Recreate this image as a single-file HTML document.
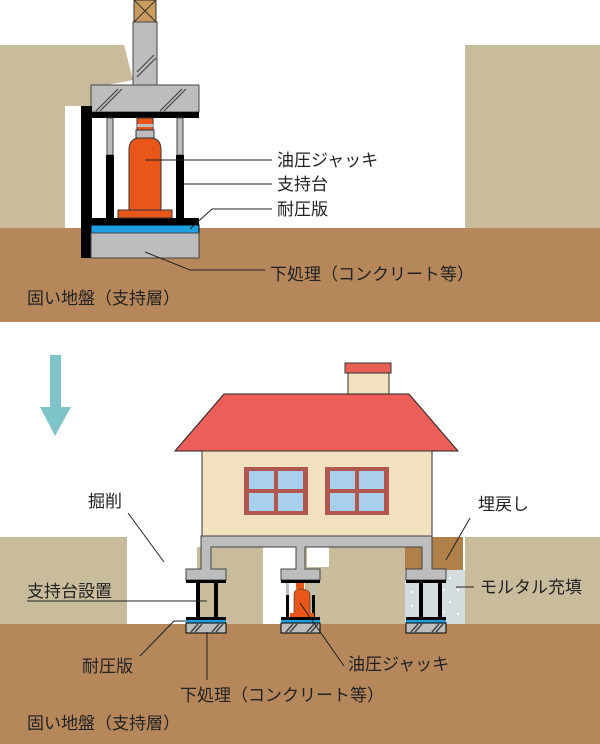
<!DOCTYPE html>
<html><head><meta charset="utf-8"><style>
body{margin:0;background:#fff}
svg{display:block}
text{font-family:"Liberation Sans","Noto Sans CJK JP",sans-serif;font-size:17px;fill:#222}
</style></head><body>
<svg width="600" height="744" viewBox="0 0 600 744" xmlns="http://www.w3.org/2000/svg">
<!-- TOP DIAGRAM -->
<polygon points="0,45 124,45 133,80 91,88 91,106 65,106 65,228 0,228" fill="#C9BC9C"/>
<rect x="465" y="45" width="135" height="183" fill="#C9BC9C"/>
<rect x="0" y="228" width="600" height="94" fill="#B5875A"/>
<!-- column & cap -->
<rect x="134" y="0" width="22" height="22" fill="#C99B5E" stroke="#333"/>
<path d="M134,0 L156,22 M156,0 L134,22" stroke="#333"/>
<rect x="133" y="22" width="24" height="63" fill="#BDBDBD" stroke="#444"/>
<rect x="91" y="85" width="108" height="27" fill="#BDBDBD" stroke="#444"/>
<g stroke="#444" stroke-width="1.2"><path d="M137,72 L154,55 M137,77 L156,58 M96,111 L118,89 M100,111 L122,89 M160,111 L182,89 M164,111 L186,89"/></g>
<!-- frame -->
<rect x="81" y="106" width="11" height="152" fill="#000"/>
<rect x="91" y="112" width="108" height="6" fill="#000"/>
<rect x="107" y="118" width="6" height="37" fill="#BDBDBD" stroke="#444"/>
<rect x="177" y="118" width="6" height="37" fill="#BDBDBD" stroke="#444"/>
<rect x="106" y="155" width="8" height="64" fill="#000"/>
<rect x="176" y="155" width="8" height="64" fill="#000"/>
<rect x="91" y="218" width="108" height="7" fill="#000"/>
<rect x="91" y="225" width="108" height="8" fill="#1E9FE0" stroke="#000"/>
<rect x="91" y="233" width="108" height="25" fill="#BDBDBD" stroke="#444"/>
<!-- jack -->
<rect x="137" y="118" width="16" height="17" fill="#E8561A" stroke="#333"/>
<rect x="137" y="124" width="16" height="3" fill="#BDBDBD"/>
<rect x="136" y="130" width="18" height="8" fill="#BDBDBD" stroke="#333"/>
<path d="M129,210 L129,150 Q129,138 140,138 L150,138 Q161,138 161,150 L161,210 Z" fill="#E8561A" stroke="#333"/>
<rect x="118" y="210" width="54" height="8" fill="#E8561A" stroke="#333"/>
<!-- top labels -->
<g stroke="#222" stroke-width="1" fill="none">
<path d="M145,160 L272,160"/><path d="M184,184 L272,184"/><path d="M190,229 L212,209 L272,209"/><path d="M145,252 L190,270 L265,270"/>
</g>
<text x="277" y="166">油圧ジャッキ</text>
<text x="277" y="190">支持台</text>
<text x="277" y="215">耐圧版</text>
<text x="270" y="280">下処理（コンクリート等）</text>
<text x="27" y="304">固い地盤（支持層）</text>
<!-- arrow -->
<rect x="50" y="355" width="11" height="52" fill="#7EC4C8"/>
<polygon points="40,407 71,407 55,436" fill="#7EC4C8"/>
<!-- BOTTOM DIAGRAM ground -->
<rect x="0" y="537" width="127" height="87" fill="#C9BC9C"/>
<rect x="197" y="547" width="66" height="77" fill="#C9BC9C"/>
<rect x="305" y="547" width="100" height="77" fill="#C9BC9C"/>
<rect x="305" y="547" width="24" height="20" fill="#fff"/>
<rect x="297" y="547" width="10" height="20" fill="#C9BC9C"/>
<rect x="405" y="537" width="58" height="33" fill="#B0804A"/>
<rect x="405" y="570" width="60" height="54" fill="#D5DCE0"/>
<g fill="#fff">
<circle cx="412" cy="578" r="1"/><circle cx="450" cy="578" r="1"/><circle cx="458" cy="590" r="1"/><circle cx="412" cy="592" r="1"/><circle cx="450" cy="602" r="1"/><circle cx="412" cy="606" r="1"/><circle cx="458" cy="614" r="1"/><circle cx="444" cy="590" r="1"/><circle cx="444" cy="612" r="1"/>
</g>
<rect x="465" y="537" width="135" height="87" fill="#C9BC9C"/>
<rect x="0" y="624" width="600" height="120" fill="#B5875A"/>
<!-- house -->
<rect x="345" y="363" width="46" height="10" fill="#E85F55" stroke="#333"/>
<rect x="348" y="373" width="41" height="26" fill="#F2E1BE" stroke="#333"/>
<polygon points="175,451 224,394 409,394 458,451" fill="#EB5F58" stroke="#222"/>
<rect x="202" y="451" width="230" height="85" fill="#F2E1BE" stroke="#333"/>
<g>
<rect x="244" y="467" width="64" height="48" fill="#B0584F"/>
<rect x="249" y="471" width="25" height="18" fill="#A8D0EC"/><rect x="278" y="471" width="25" height="18" fill="#A8D0EC"/>
<rect x="249" y="493" width="25" height="18" fill="#A8D0EC"/><rect x="278" y="493" width="25" height="18" fill="#A8D0EC"/>
<rect x="325" y="467" width="64" height="48" fill="#B0584F"/>
<rect x="330" y="471" width="25" height="18" fill="#A8D0EC"/><rect x="359" y="471" width="25" height="18" fill="#A8D0EC"/>
<rect x="330" y="493" width="25" height="18" fill="#A8D0EC"/><rect x="359" y="493" width="25" height="18" fill="#A8D0EC"/>
</g>
<!-- foundation beam with legs -->
<path d="M201,536 L432,536 L432,569 L446,569 L446,580 L406,580 L406,569 L422,569 L422,547 L305,547 L305,569 L320,569 L320,580 L281,580 L281,569 L296,569 L296,547 L211,547 L211,569 L226,569 L226,580 L186,580 L186,569 L201,569 Z" fill="#BDBDBD" stroke="#444"/>
<g fill="#000">
<rect x="186" y="580" width="40" height="3"/><rect x="281" y="580" width="39" height="3"/><rect x="406" y="580" width="40" height="3"/>
<rect x="196" y="583" width="4" height="35"/><rect x="214" y="583" width="4" height="35"/>
<rect x="419" y="583" width="4" height="35"/><rect x="438" y="583" width="4" height="35"/>
<rect x="286" y="595" width="3" height="23"/><rect x="312" y="595" width="3" height="23"/>
</g>
<rect x="286" y="583" width="3" height="12" fill="#BDBDBD"/><rect x="312" y="583" width="3" height="12" fill="#BDBDBD"/>
<rect x="424" y="583" width="14" height="35" fill="#D5DCE0"/>
<rect x="296" y="583" width="8" height="6" fill="#E8561A"/>
<path d="M294,615 L294,595 Q294,589 300,589 Q310,589 310,595 L310,615 Z" fill="#E8561A" stroke="#333" stroke-width="0.6"/>
<rect x="290" y="613" width="24" height="4" fill="#E8561A"/>
<!-- pads -->
<g>
<rect x="186" y="617" width="40" height="3" fill="#000"/><rect x="186" y="620" width="40" height="3" fill="#1E9FE0"/><rect x="186" y="623" width="40" height="10" fill="#BDBDBD" stroke="#000"/>
<rect x="281" y="617" width="39" height="3" fill="#000"/><rect x="281" y="620" width="39" height="3" fill="#1E9FE0"/><rect x="281" y="623" width="39" height="10" fill="#BDBDBD" stroke="#000"/>
<rect x="406" y="617" width="40" height="3" fill="#000"/><rect x="406" y="620" width="40" height="3" fill="#1E9FE0"/><rect x="406" y="623" width="40" height="10" fill="#BDBDBD" stroke="#000"/>
</g>
<g stroke="#444" stroke-width="1.5">
<path d="M191,632 L198,624 M195,632 L202,624 M212,632 L219,624 M216,632 L223,624"/>
<path d="M286,632 L293,624 M290,632 L297,624 M307,632 L314,624 M311,632 L318,624"/>
<path d="M411,632 L418,624 M415,632 L422,624 M432,632 L439,624 M436,632 L443,624"/>
</g>
<!-- bottom labels -->
<g stroke="#222" stroke-width="1" fill="none">
<path d="M128,513 L164,562"/><path d="M470,518 L446,560"/>
<path d="M27,601 L207,601"/><path d="M456,587 L474,587"/>
<path d="M140,656 L174,621 L186,621"/><path d="M207,632 L207,680"/>
<path d="M300,603 L344,666"/>
</g>
<text x="88" y="507">掘削</text>
<text x="478" y="510">埋戻し</text>
<text x="27" y="597">支持台設置</text>
<text x="480" y="593">モルタル充填</text>
<text x="82" y="672">耐圧版</text>
<text x="348" y="670">油圧ジャッキ</text>
<text x="180" y="701">下処理（コンクリート等）</text>
<text x="27" y="729">固い地盤（支持層）</text>
</svg>
</body></html>
